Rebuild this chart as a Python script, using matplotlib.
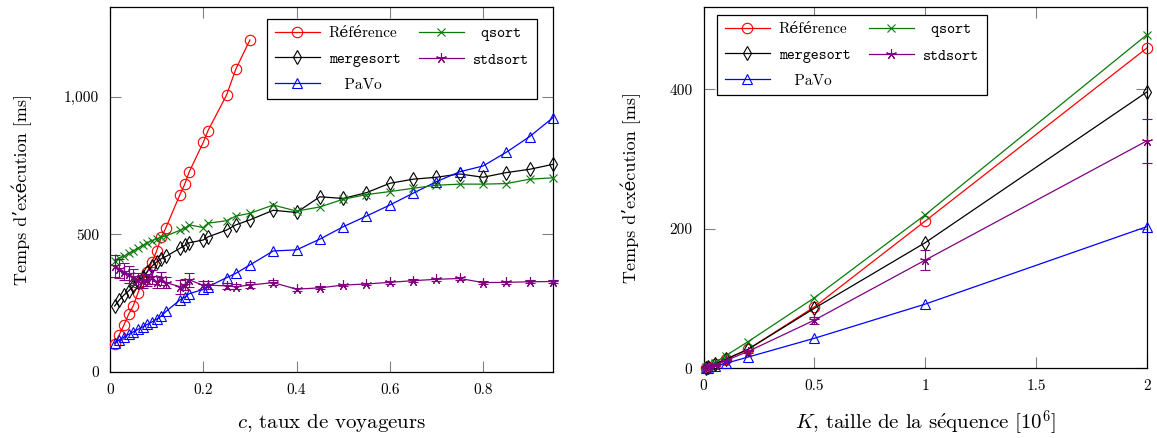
import matplotlib
matplotlib.use("Agg")
import matplotlib.pyplot as plt
from matplotlib.ticker import FuncFormatter, FixedLocator

plt.rcParams['font.family'] = ['cmr10', 'DejaVu Serif']
plt.rcParams['mathtext.fontset'] = 'cm'
plt.rcParams['axes.formatter.use_mathtext'] = True

# ---------------- Left chart data: c, taux de voyageurs ----------------
c_vals = [0.01, 0.02, 0.03, 0.04, 0.05, 0.06, 0.07, 0.08, 0.09, 0.10, 0.11, 0.12,
          0.15, 0.16, 0.17, 0.20, 0.21, 0.25, 0.27, 0.30, 0.35, 0.40, 0.45, 0.50,
          0.55, 0.60, 0.65, 0.70, 0.75, 0.80, 0.85, 0.90, 0.95]
c_ref = [0.01, 0.02, 0.03, 0.04, 0.05, 0.06, 0.07, 0.08, 0.09, 0.10, 0.11, 0.12,
         0.15, 0.16, 0.17, 0.20, 0.21, 0.25, 0.27, 0.30]
left_reference = [103, 136, 171, 210, 241, 288, 330, 365, 400, 440, 490, 525,
                  645, 682, 728, 835, 877, 1007, 1102, 1207]
left_qsort = [405, 415, 420, 432, 440, 450, 460, 470, 478, 485, 490, 495,
              515, 522, 535, 525, 541, 550, 567, 577, 607, 585, 600, 628,
              645, 656, 668, 679, 683, 683, 685, 701, 706]
left_mergesort = [240, 262, 280, 295, 312, 328, 345, 365, 385, 400, 412, 420,
                  450, 460, 470, 480, 491, 516, 535, 553, 588, 580, 637, 631,
                  652, 686, 701, 708, 720, 708, 725, 737, 755]
left_stdsort = [385, 375, 365, 355, 345, 335, 330, 335, 345, 328, 340, 325,
                310, 318, 335, 315, 316, 313, 310, 316, 325, 301, 306, 316,
                320, 326, 332, 337, 340, 325, 326, 328, 329]
left_stdsort_err = [40, 35, 32, 30, 28, 26, 24, 22, 25, 22, 22, 20,
                    25, 20, 25, 15, 15, 12, 10, 10, 8, 5, 5, 5,
                    5, 5, 5, 5, 5, 5, 5, 5, 5]
left_pavo = [105, 117, 127, 137, 146, 155, 164, 173, 182, 192, 203, 220,
             262, 272, 285, 300, 310, 343, 359, 389, 440, 444, 483, 528,
             567, 607, 650, 692, 728, 749, 799, 856, 925]

# ---------------- Right chart data: K, taille de la séquence ----------------
k_vals = [0.01, 0.02, 0.05, 0.1, 0.2, 0.5, 1, 2]
right_reference = [1, 2.5, 6, 13, 27, 88, 211, 459]
right_qsort = [1.2, 3, 8, 18, 38, 101, 220, 478]
right_mergesort = [1, 2.5, 6, 13, 27, 86, 180, 396]
right_stdsort = [1, 2, 5, 11, 24, 69, 155, 326]
right_stdsort_err = [0.5, 0.5, 1, 1, 2, 5, 14, 32]
right_pavo = [0.5, 1, 3, 7, 16, 43, 92, 203]

left_xticks = [0, 0.2, 0.4, 0.6, 0.8]
left_yticks = [0, 500, 1000]
right_xticks = [0, 0.5, 1, 1.5, 2]
right_yticks = [0, 200, 400]

RED = '#ff0000'
GREEN = '#0b7a0b'
BLACK = '#000000'
PURPLE = '#800080'
BLUE = '#0000ff'
STAR = (5, 2, 0)

W, H = 1157, 438
fig = plt.figure(figsize=(W / 100, H / 100), dpi=100)
axL = fig.add_axes([110 / W, 1 - 372 / H, 443 / W, 365 / H])
axR = fig.add_axes([703.5 / W, 1 - 368.3 / H, 443.2 / W, 361.3 / H])

lw = 0.9
mew = 0.8
ms = 7.5


def draw(ax, x, xr, ref, qs, ms_, sd, sderr, pv):
    h_ref, = ax.plot(xr, ref, color=RED, lw=lw, marker='o', ms=ms, mfc='none', mew=mew, zorder=3)
    h_ms, = ax.plot(x, ms_, color=BLACK, lw=lw, marker='d', ms=ms, mfc='none', mew=mew, zorder=3)
    h_pv, = ax.plot(x, pv, color=BLUE, lw=lw, marker='^', ms=ms, mfc='none', mew=mew, zorder=3)
    h_qs, = ax.plot(x, qs, color=GREEN, lw=lw, marker='x', ms=ms - 1.5, mew=mew, zorder=3)
    eb = ax.errorbar(x, sd, yerr=sderr, color=PURPLE, lw=lw, marker=STAR, ms=ms, mew=mew,
                     capsize=3.6, elinewidth=mew, capthick=mew, zorder=3)
    h_sd = eb.lines[0]
    return [h_ref, h_ms, h_pv, h_qs, h_sd]


hL = draw(axL, c_vals, c_ref, left_reference, left_qsort, left_mergesort,
          left_stdsort, left_stdsort_err, left_pavo)
hR = draw(axR, k_vals, k_vals, right_reference, right_qsort, right_mergesort,
          right_stdsort, right_stdsort_err, right_pavo)

labels = ['Référence', 'mergesort', '   PaVo', ' qsort', 'stdsort']
tt = [False, True, False, True, True]

for ax, handles, bbox in ((axL, hL, (267 / W, 1 - 19 / H)), (axR, hR, (717 / W, 1 - 15 / H))):
    leg = ax.legend(handles, labels, ncol=2, loc='upper left', bbox_to_anchor=bbox,
                    bbox_transform=fig.transFigure, frameon=True, fancybox=False,
                    edgecolor='black', framealpha=1, fontsize=11, handlelength=2.95,
                    handletextpad=0.6, columnspacing=1.2, labelspacing=0.75,
                    borderpad=0.5, borderaxespad=0)
    leg.get_frame().set_linewidth(0.9)
    for t, is_tt in zip(leg.get_texts(), tt):
        if is_tt:
            t.set_fontfamily('cmtt10')

fmt_thousands = FuncFormatter(lambda v, p: '{:,.0f}'.format(v))
fmt_g = FuncFormatter(lambda v, p: '{:g}'.format(v))

axL.set_xlim(0, 0.95)
axL.set_ylim(0, 1327)
axL.xaxis.set_major_locator(FixedLocator(left_xticks))
axL.yaxis.set_major_locator(FixedLocator(left_yticks))
axL.xaxis.set_major_formatter(fmt_g)
axL.yaxis.set_major_formatter(fmt_thousands)
axL.set_xlabel(r'$c$, taux de voyageurs', fontsize=15, labelpad=11)
axL.set_ylabel('Temps d\u2019exécution [ms]', fontsize=13, labelpad=23)

axR.set_xlim(0, 2)
axR.set_ylim(0, 518)
axR.xaxis.set_major_locator(FixedLocator(right_xticks))
axR.yaxis.set_major_locator(FixedLocator(right_yticks))
axR.xaxis.set_major_formatter(fmt_g)
axR.yaxis.set_major_formatter(fmt_g)
axR.set_xlabel(r'$K$, taille de la s$\acute{\mathrm{e}}$quence [$10^6$]', fontsize=15, labelpad=11)
axR.set_ylabel('Temps d\u2019exécution [ms]', fontsize=13, labelpad=20)

for ax in (axL, axR):
    ax.tick_params(direction='in', length=8, width=0.8, color='#808080',
                   top=True, right=True, labelsize=11, pad=8)
    for s in ax.spines.values():
        s.set_linewidth(0.9)
        s.set_color('black')
    for e in ax.lines:
        e.set_clip_on(False)

fig.savefig('out.png', dpi=100)
